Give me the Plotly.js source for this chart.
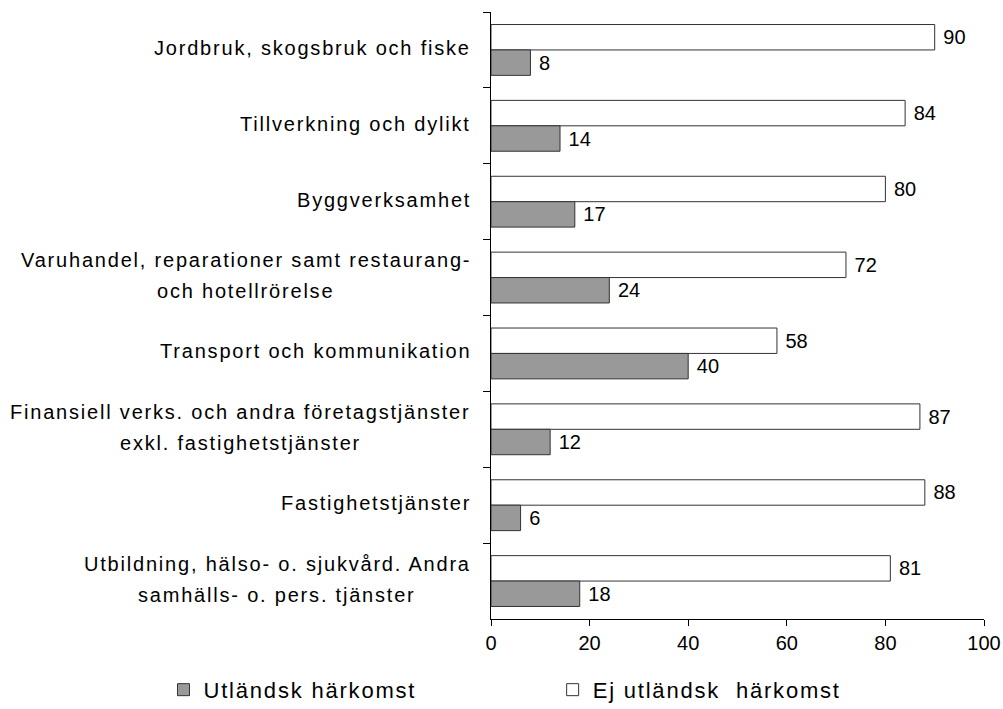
<!DOCTYPE html>
<html>
<head>
<meta charset="utf-8">
<script src="https://cdn.plot.ly/plotly-3.0.1.min.js"></script>
<style>
body { margin: 0; background: #fff; }
.annotation-text, .legendtext, #plot .infolayer text { letter-spacing: 1.8px; }
</style>
</head>
<body>
<div id="plot" style="width:1003px;height:709px;"></div>
<script>
// branscher, uppifrån och ned
var branscher = [
    "Jordbruk, skogsbruk och fiske",
    "Tillverkning och dylikt",
    "Byggverksamhet",
    "Varuhandel, reparationer samt restaurang-<br>och hotellrörelse",
    "Transport och kommunikation",
    "Finansiell verks. och andra företagstjänster<br>exkl. fastighetstjänster",
    "Fastighetstjänster",
    "Utbildning, hälso- o. sjukvård. Andra<br>samhälls- o. pers. tjänster"
];
var utlandsk = [8, 14, 17, 24, 40, 12, 6, 18];
var ejUtlandsk = [90, 84, 80, 72, 58, 87, 88, 81];
var xTicks = [0, 20, 40, 60, 80, 100];

var font = "Liberation Sans, Arial, sans-serif";
var fs = 20, ls = 1.8;

var ej = {
    y: branscher,
    x: ejUtlandsk,
    name: "Ej utländsk  härkomst",
    legend: "legend2",
    type: "bar",
    orientation: "h",
    marker: {color: "#ffffff", line: {color: "#333333", width: 1}},
    texttemplate: " %{x}",
    textposition: "outside",
    constraintext: "none",
    cliponaxis: false,
    textfont: {family: font, size: fs, color: "#000"}
};
var utl = {
    y: branscher,
    x: utlandsk,
    name: "Utländsk härkomst",
    legend: "legend",
    type: "bar",
    orientation: "h",
    marker: {color: "#999999", line: {color: "#333333", width: 1}},
    texttemplate: " %{x}",
    textposition: "outside",
    constraintext: "none",
    cliponaxis: false,
    textfont: {family: font, size: fs, color: "#000"}
};
var data = [ej, utl];

// kategorietiketter: en annotation per rad, raderna centrerade mot varandra
var ctx = document.createElement("canvas").getContext("2d");
ctx.font = fs + "px 'Liberation Sans'";
function textW(s) { return ctx.measureText(s).width + s.length * ls; }

var labels = [];
branscher.forEach(function(b) {
    var lines = b.split("<br>");
    var maxW = Math.max.apply(null, lines.map(textW));
    lines.forEach(function(line, i) {
        labels.push({
            text: line,
            xref: "paper", yref: "y",
            x: 0, y: b,
            xanchor: "center", yanchor: "middle",
            xshift: -20 - maxW / 2,
            yshift: ((lines.length - 1) / 2 - i) * 31 + 2,
            showarrow: false,
            font: {family: font, size: fs, color: "#000"}
        });
    });
});

function legendAt(x) {
    return {
        orientation: "h",
        xref: "container", yref: "container",
        x: x, xanchor: "left",
        y: 0.027, yanchor: "middle",
        entrywidth: 290,
        entrywidthmode: "pixels",
        font: {family: font, size: 22, color: "#000"},
        bgcolor: "rgba(0,0,0,0)"
    };
}

var layout = {
    width: 1003,
    height: 709,
    margin: {l: 491, r: 19, t: 12, b: 90, pad: 0},
    paper_bgcolor: "#fff",
    plot_bgcolor: "#fff",
    font: {family: font, size: fs, color: "#000"},
    barmode: "group",
    bargap: 0.33,
    bargroupgap: 0,
    xaxis: {
        range: [0, 100],
        tickvals: xTicks,
        ticks: "outside",
        ticklen: 6,
        tickcolor: "#000",
        showline: true,
        linecolor: "#000",
        linewidth: 1,
        showgrid: false,
        zeroline: false,
        tickfont: {family: font, size: fs, color: "#000"}
    },
    yaxis: {
        type: "category",
        autorange: "reversed",
        showticklabels: false,
        ticks: "outside",
        tickson: "boundaries",
        ticklen: 7,
        tickcolor: "#000",
        showline: true,
        linecolor: "#000",
        linewidth: 1,
        showgrid: false,
        zeroline: false
    },
    annotations: labels,
    showlegend: true,
    legend: legendAt(0.163),
    legend2: legendAt(0.551)
};

Plotly.newPlot("plot", data, layout, {displayModeBar: false});
</script>
</body>
</html>
